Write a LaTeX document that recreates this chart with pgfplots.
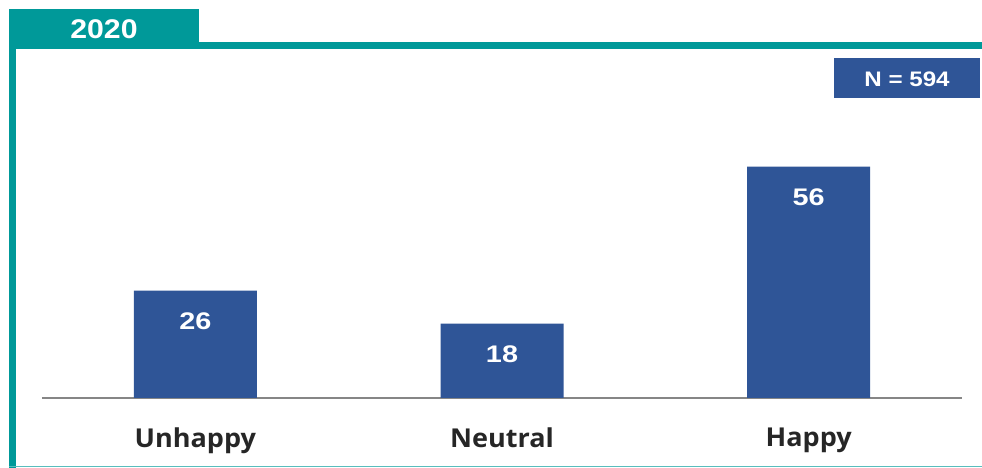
\documentclass[border=0pt]{standalone}
\usepackage{fontspec}
\setmainfont{Liberation Sans}
\newfontfamily\opensans{Open Sans}
\usepackage{graphicx}
\usepackage{pgfplots}
\pgfplotsset{compat=1.18}
\definecolor{teal1}{HTML}{009999}
\definecolor{barblue}{HTML}{2F5597}
\definecolor{labgray}{HTML}{262626}
\begin{document}
\begin{tikzpicture}[x=1pt,y=1pt]
\useasboundingbox (0,0) rectangle (982,468);
\fill[teal1] (9,459) rectangle (199,419);
\fill[teal1] (9,426) rectangle (982,419);
\fill[teal1] (9,0) rectangle (16,419);
\draw[teal1!65, line width=1.2] (9,1.2) -- (982,1.2);
\node[white, font=\bfseries\fontsize{27}{27}\selectfont] at (104,439) {\scalebox{1.12}[1]{2020}};
\fill[barblue] (834,410) rectangle (980,370);
\node[white,font=\bfseries\fontsize{21}{21}\selectfont] at (907,389) {\scalebox{1.15}[1]{N = 594}};
\begin{axis}[
  at={(42pt,70pt)}, anchor=south west,
  scale only axis, width=920pt, height=248pt,
  xmin=-0.5, xmax=2.5, ymin=0, ymax=60,
  axis x line=bottom, axis y line=none,
  x axis line style={draw=gray!95, line width=1.5pt, -},
  xtick={0,1,2},
  xticklabels={\scalebox{1.04}[1]{Unhappy},\scalebox{1.04}[1]{Neutral},\scalebox{1.04}[1]{Happy}},
  major tick length=0pt,
  xticklabel style={font=\opensans\bfseries\fontsize{26}{26}\selectfont, text=labgray, yshift=-26pt},
  ybar, bar width=123pt,
  nodes near coords={\scalebox{1.2}[1]{\pgfmathprintnumber{\pgfplotspointmeta}}},
  /pgf/number format/assume math mode=true,
  nodes near coords style={anchor=center, yshift=-31pt, text=white, font=\bfseries\fontsize{24}{24}\selectfont},
  clip=false,
]
\addplot[fill=barblue, draw=none] coordinates {(0,26) (1,18) (2,56)};
\end{axis}
\end{tikzpicture}
\end{document}
